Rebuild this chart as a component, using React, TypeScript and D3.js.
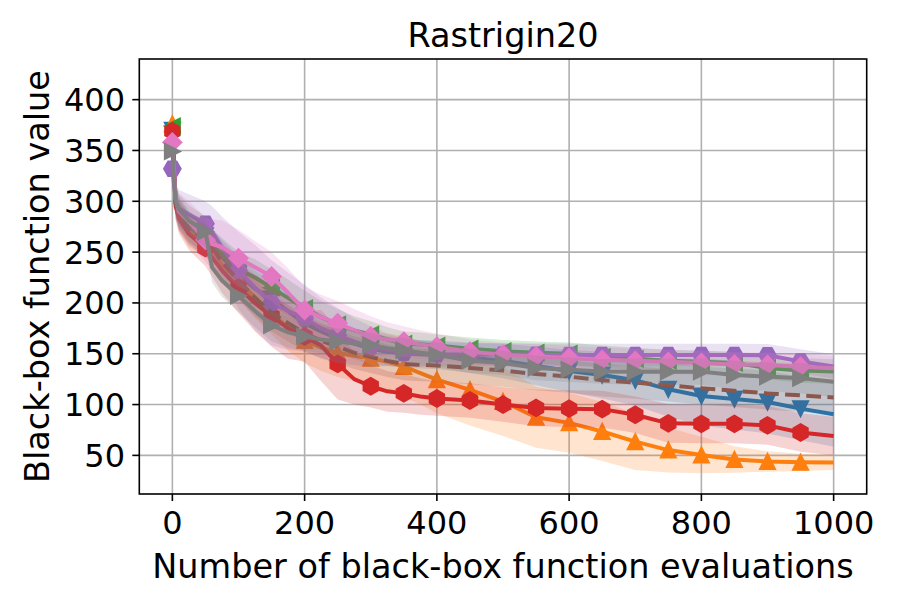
import * as d3 from 'd3';

// evaluation counts at which the curves were read
const evals = [0, 5, 10, 25, 50, 60, 75, 100, 125, 150, 175, 200, 225, 250, 275, 300, 325, 350, 375, 400, 450, 500, 550, 600, 650, 700, 750, 800, 850, 900, 950, 1000];

const blueMean = [370, 298, 288, 274, 266, 258, 245, 228, 214, 204, 192, 180, 172, 165, 160, 155, 152, 150.5, 149.5, 149, 146, 143, 138, 133, 129, 124, 115, 108.5, 105.5, 102.5, 96, 90.5];
const orangeMean = [376, 298, 286, 270, 262, 254, 238, 222, 205, 190, 175, 163, 156, 151, 148, 145.5, 142, 137.5, 131, 124.5, 114.5, 103, 87.5, 82, 73.5, 63.5, 55.2, 50.3, 46, 44, 43.2, 43];
const greenMean = [374, 300, 290, 276, 262, 257, 248, 233, 225, 215, 205, 195, 186, 179, 173, 169, 164, 160, 159, 158, 155, 152.5, 151, 150, 147, 145, 143, 142, 141, 136, 133.5, 132.5];
const redMean = [369, 295, 283, 268, 254, 245, 232, 215, 200, 187, 175, 167, 158, 140, 125, 118, 113, 111, 108, 106, 104, 100, 96.7, 96, 95.5, 90, 81.5, 81, 81, 79.5, 72.5, 69];
const purpleMean = [332, 302, 293, 287, 278, 270, 255, 232, 215, 200, 192, 185, 175, 168, 162, 157, 154, 151, 150, 149.5, 149.3, 149.2, 149, 148.8, 148.8, 148.8, 148.8, 148.8, 148.8, 148.5, 142.5, 137.5];
const brownMean = [365, 298, 286, 272, 262, 255, 240, 222, 205, 190, 180, 170, 163, 157, 151, 147, 143, 140, 139, 138.5, 136, 133.5, 130, 127.5, 124, 121.6, 119, 116, 113.5, 111, 109, 107];
const pinkMean = [358, 302, 290, 280, 262, 258, 255, 244, 235, 226, 210, 193, 186, 180, 173, 167, 164, 162, 159, 157, 152, 149, 147.4, 145.8, 144, 143, 142, 141, 139.5, 139, 137.3, 135.7];
const grayMean = [349, 300, 292, 281, 270, 235, 222, 207, 192, 178, 171, 167, 164, 162, 160, 158.5, 155.5, 153.5, 151, 149, 143, 141, 136, 134.3, 132.5, 132.4, 132.4, 132.4, 129, 127.5, 126, 122.5];

const blueStd = [10, 15, 15, 15, 16, 16, 17, 18, 18, 18, 18, 18, 17, 16, 15, 15, 14, 14, 14, 14, 15, 17, 19, 21, 23, 25, 27, 29, 30, 31, 31, 32];
const orangeStd = [10, 14, 15, 15, 16, 17, 18, 19, 20, 21, 22, 22, 23, 24, 25, 26, 28, 30, 31, 33, 35, 34, 30, 29.5, 29, 28, 22, 18, 13, 10, 8.5, 7.5];
const greenStd = [10, 15, 15, 15, 15, 15, 16, 17, 18, 18, 18, 17, 16, 15, 14, 13, 12, 12, 12, 11, 11, 11, 11, 11, 11, 11, 11, 11, 11, 11, 12, 12];
const redStd = [10, 14, 15, 16, 18, 19, 22, 25, 28, 30, 30, 25, 35, 35, 25, 21, 20, 19, 18, 17, 17, 17, 18, 18, 18, 18, 19, 19, 19, 19, 19, 19];
const purpleStd = [10, 15, 18, 20, 22, 25, 30, 38, 42, 42, 38, 33, 30, 27, 23, 20, 16, 14, 13, 12, 11, 11, 11, 11, 11, 11, 11, 11, 11, 11, 12, 12];
const brownStd = [10, 15, 15, 15, 16, 16, 17, 18, 18, 18, 18, 18, 17, 16, 16, 16, 16, 16, 16, 16, 16, 16, 16, 16, 16, 16, 16, 16, 16, 16, 16, 16];
const pinkStd = [10, 15, 18, 20, 22, 24, 26, 28, 26, 24, 24, 23, 22, 22, 21, 20, 17, 15, 14, 13, 12, 12, 12, 12, 12, 12, 12, 12, 12, 12, 12, 12];
const grayStd = [10, 15, 15, 15, 15, 15, 16, 16, 16, 16, 15, 14, 13, 13, 13, 12, 12, 12, 12, 12, 12, 12, 12, 12, 12, 13, 13, 13, 14, 14, 15, 15];

const xTicks = [0, 200, 400, 600, 800, 1000];
const yTicks = [50, 100, 150, 200, 250, 300, 350, 400];

type Marker = 'v' | '^' | '<' | '>' | 'h' | 'H' | 'D' | null;

interface Series {
  color: string;
  mean: number[];
  std: number[];
  marker: Marker;
  dashed?: boolean;
}

const series: Series[] = [
  { color: '#1f77b4', mean: blueMean, std: blueStd, marker: 'v' },
  { color: '#ff7f0e', mean: orangeMean, std: orangeStd, marker: '^' },
  { color: '#2ca02c', mean: greenMean, std: greenStd, marker: '<' },
  { color: '#d62728', mean: redMean, std: redStd, marker: 'h' },
  { color: '#9467bd', mean: purpleMean, std: purpleStd, marker: 'H' },
  { color: '#8c564b', mean: brownMean, std: brownStd, marker: null, dashed: true },
  { color: '#e377c2', mean: pinkMean, std: pinkStd, marker: 'D' },
  { color: '#7f7f7f', mean: grayMean, std: grayStd, marker: '>' },
];

function polygon(n: number, r: number, startDeg: number) {
  const pts = d3.range(n).map(i => {
    const a = ((startDeg + (360 / n) * i) * Math.PI) / 180;
    return [r * Math.cos(a), -r * Math.sin(a)];
  });
  return 'M' + pts.map(p => p[0].toFixed(2) + ',' + p[1].toFixed(2)).join('L') + 'Z';
}

function markerPath(m: Marker) {
  const r = 7.5;
  switch (m) {
    case 'v': return `M0,${r}L${-r},${-r}L${r},${-r}Z`;
    case '^': return `M0,${-r}L${-r},${r}L${r},${r}Z`;
    case '<': return `M${-r},0L${r},${-r}L${r},${r}Z`;
    case '>': return `M${r},0L${-r},${-r}L${-r},${r}Z`;
    case 'h': return polygon(6, 8.3, 90);
    case 'H': return polygon(6, 8.3, 0);
    case 'D': return polygon(4, 9, 0);
    default: return '';
  }
}

export default function App() {
  const width = 900;
  const height = 600;
  const margin = { left: 139.3, right: 900 - 866.7, top: 59, bottom: 600 - 494 };
  const font = 'DejaVu Sans, sans-serif';

  const x = d3.scaleLinear().domain([-50, 1050]).range([margin.left, width - margin.right]);
  const y = d3.scaleLinear().domain([12, 440]).range([height - margin.bottom, margin.top]);

  const line = d3.line<number>()
    .x((_, i) => x(evals[i]))
    .y(d => y(d));

  const band = (s: Series) => d3.area<number>()
    .x((_, i) => x(evals[i]))
    .y0((d, i) => y(d - s.std[i]))
    .y1((d, i) => y(d + s.std[i]))(s.mean) || '';

  const x0 = x.range()[0];
  const x1 = x.range()[1];
  const y0 = y.range()[1];
  const y1 = y.range()[0];

  return (
    <svg width={width} height={height} style={{ position: 'absolute', left: 0, top: 0, background: '#fff' }}>
      <defs>
        <clipPath id="plot">
          <rect x={x0} y={y0} width={x1 - x0} height={y1 - y0} />
        </clipPath>
      </defs>

      {/* grid */}
      <g stroke="#b0b0b0" strokeWidth={1.6}>
        {xTicks.map(t => <line key={'gx' + t} x1={x(t)} x2={x(t)} y1={y0} y2={y1} />)}
        {yTicks.map(t => <line key={'gy' + t} x1={x0} x2={x1} y1={y(t)} y2={y(t)} />)}
      </g>

      <g clipPath="url(#plot)">
        {series.map((s, k) => (
          <g key={k}>
            <path d={band(s)} fill={s.color} fillOpacity={0.2} stroke="none" />
            <path
              d={line(s.mean) || ''}
              fill="none"
              stroke={s.color}
              strokeWidth={4}
              strokeLinejoin="round"
              strokeDasharray={s.dashed ? '14.8 6.4' : undefined}
            />
            {s.marker && s.mean.map((v, i) =>
              evals[i] % 50 === 0 && evals[i] < 1000 ? (
                <path
                  key={i}
                  d={markerPath(s.marker)}
                  transform={`translate(${x(evals[i])},${y(v)})`}
                  fill={s.color}
                  stroke={s.color}
                  strokeWidth={2}
                  strokeLinejoin="miter"
                />
              ) : null
            )}
          </g>
        ))}
      </g>

      {/* spines */}
      <rect x={x0} y={y0} width={x1 - x0} height={y1 - y0} fill="none" stroke="#000" strokeWidth={1.6} />

      <g fontFamily={font} fontSize={32} fill="#000">
        {xTicks.map(t => (
          <g key={'xt' + t}>
            <line x1={x(t)} x2={x(t)} y1={y1} y2={y1 + 7} stroke="#000" strokeWidth={1.6} />
            <text x={x(t)} y={534} textAnchor="middle">{t}</text>
          </g>
        ))}
        {yTicks.map(t => (
          <g key={'yt' + t}>
            <line x1={x0 - 7} x2={x0} y1={y(t)} y2={y(t)} stroke="#000" strokeWidth={1.6} />
            <text x={125} y={y(t) + 11.5} textAnchor="end">{t}</text>
          </g>
        ))}
        <text x={(x0 + x1) / 2} y={578} fontSize={33.5} textAnchor="middle">Number of black-box function evaluations</text>
        <text transform={`translate(49,${(y0 + y1) / 2}) rotate(-90)`} fontSize={33.5} textAnchor="middle">Black-box function value</text>
        <text x={(x0 + x1) / 2} y={47} fontSize={33.5} textAnchor="middle">Rastrigin20</text>
      </g>
    </svg>
  );
}
